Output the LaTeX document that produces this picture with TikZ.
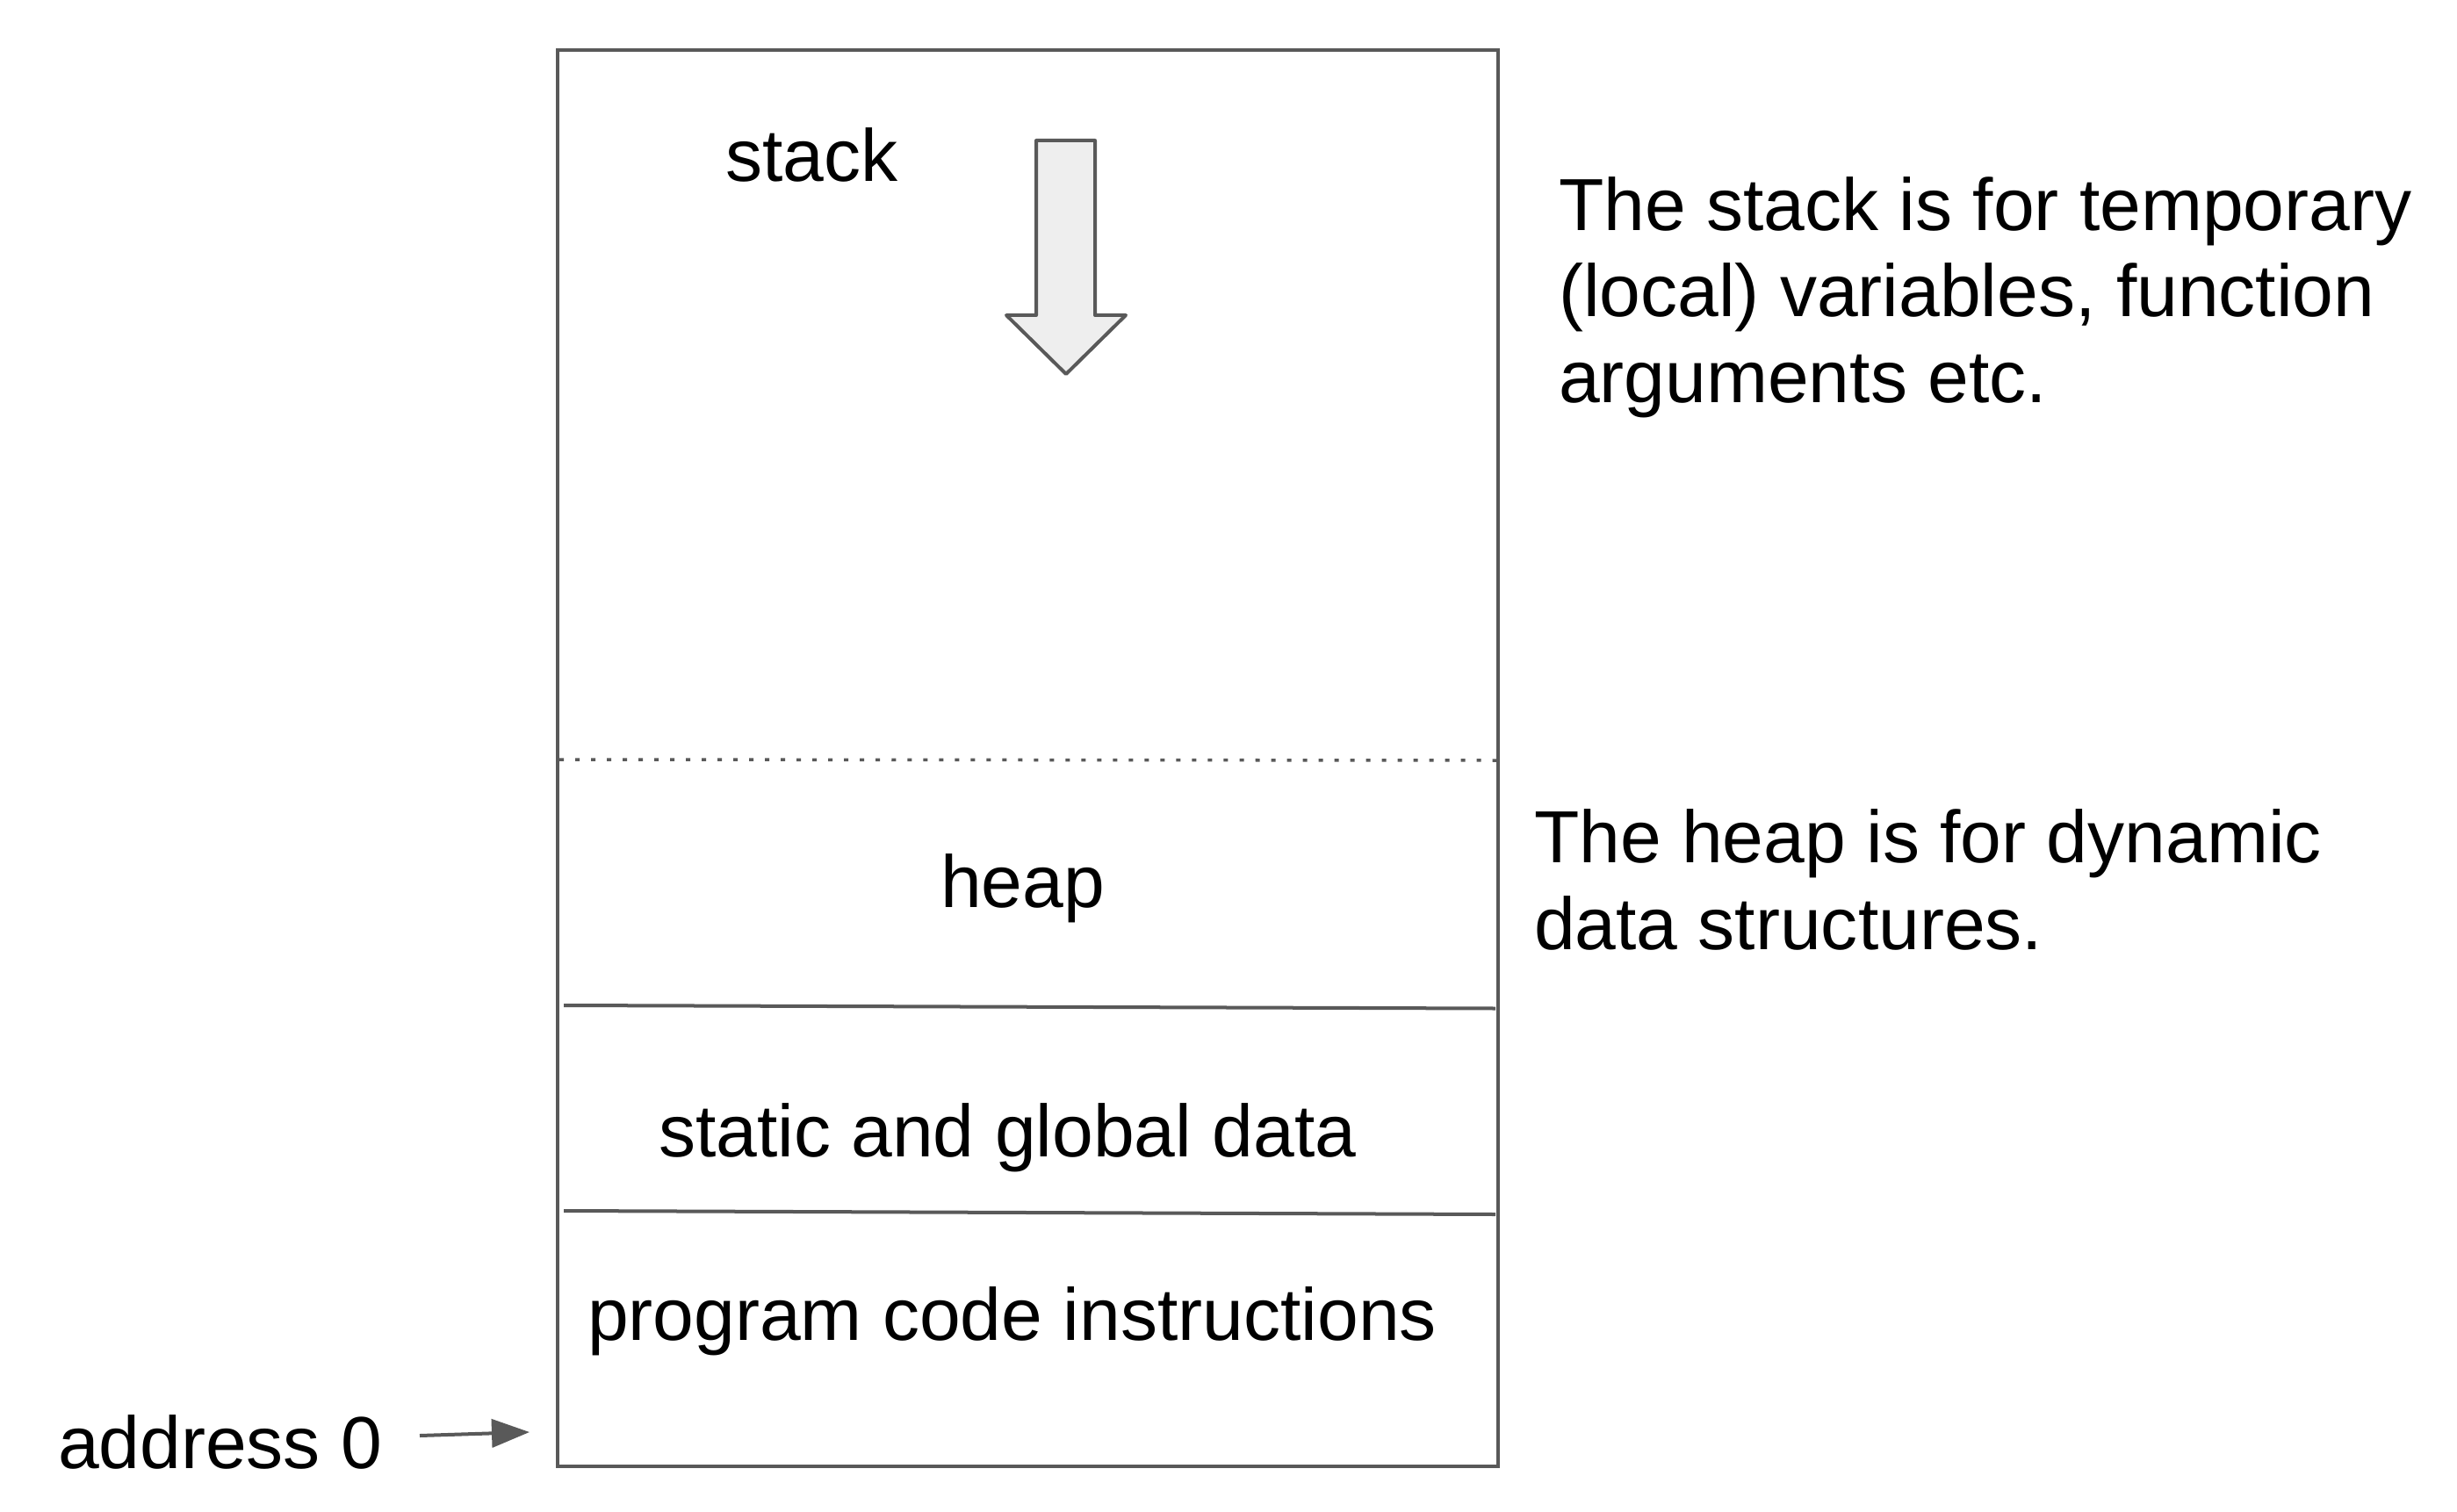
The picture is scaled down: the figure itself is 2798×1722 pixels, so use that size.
\documentclass[tikz,border=0pt]{standalone}
\usepackage{fontspec}
\setmainfont{Liberation Sans}
\usetikzlibrary{arrows.meta}
\definecolor{linegray}{HTML}{595959}
\definecolor{arrowfill}{HTML}{EEEEEE}
\tikzset{
  lbl/.style={anchor=base west, inner sep=0pt, outer sep=0pt, align=left,
    font=\fontsize{23.9pt}{27.9pt}\selectfont, text=black},
  membox/.style={draw=linegray, line width=0.04cm, minimum width=10.71cm, minimum height=16.13cm, inner sep=0pt},
  divline/.style={draw=linegray, line width=0.04cm},
  dotline/.style={draw=linegray, line width=0.035cm, dash pattern=on 0.05cm off 0.13cm},
  bigarrow/.style={draw=linegray, fill=arrowfill, line width=0.04cm, line join=round},
  ptr/.style={draw=linegray, line width=0.04cm, -{Triangle[length=0.43cm,width=0.32cm]}}
}
\begin{document}
\begin{tikzpicture}[x=0.01cm, y=-0.01cm]
\useasboundingbox (0,0) rectangle (2798,1722);
\node[membox] (mem) at (1170.5,863.5) {};
% dividers
\coordinate (d1) at (637,865);  \coordinate (d2) at (1704,866);
\draw[dotline] (d1) -- (d2);
\coordinate (s1a) at (642,1145); \coordinate (s1b) at (1703,1148.5);
\draw[divline] (s1a) -- (s1b);
\coordinate (s2a) at (642,1379); \coordinate (s2b) at (1703,1383);
\draw[divline] (s2a) -- (s2b);
% stack growth arrow
\draw[bigarrow] (1180,160) -- (1247,160) -- (1247,359) -- (1282,359) -- (1214,426) -- (1146,359) -- (1180,359) -- cycle;
% labels
\node[lbl] (stack) at (826,207) {stack};
\node[lbl] (heap) at (1071,1033) {heap};
\node[lbl] (static) at (750,1317) {static and global data};
\node[lbl] (code) at (669,1526) {program code instructions};
\node[lbl] (addr) at (66,1672) {address 0};
\node[lbl] (stacknote) at (1775,459) {The stack is for temporary\\(local) variables, function\\arguments etc.};
\node[lbl] (heapnote) at (1747,1081) {The heap is for dynamic\\data structures.};
% address pointer
\coordinate (ps) at (478,1635);
\coordinate (pe) at (603,1631);
\draw[ptr] (ps) -- (pe);
\end{tikzpicture}
\end{document}
